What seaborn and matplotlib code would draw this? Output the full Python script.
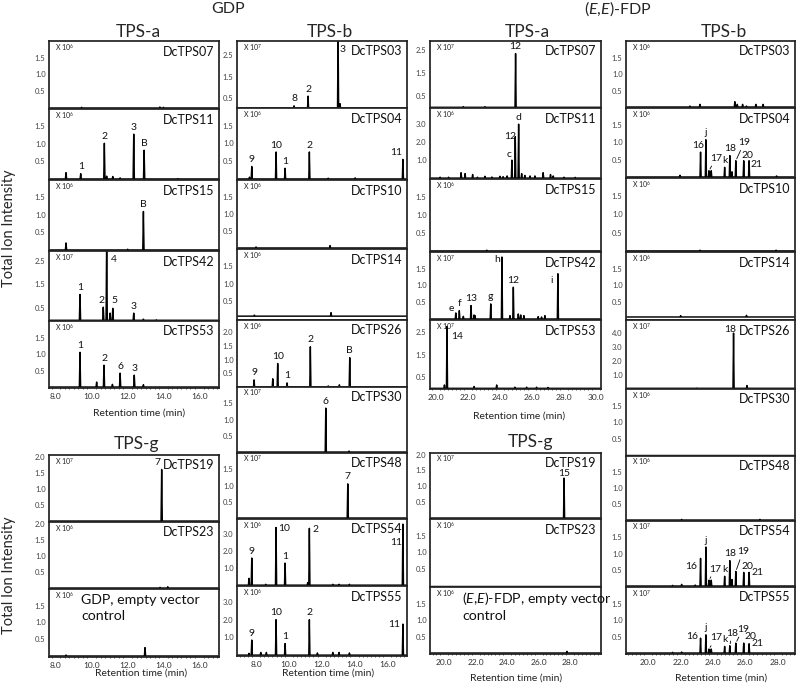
import numpy as np
import pandas as pd
import matplotlib
matplotlib.use("Agg")
import matplotlib.pyplot as plt
from matplotlib.ticker import MultipleLocator, FormatStrFormatter
import seaborn as sns

# ---------------------------------------------------------------- data
# each peak: (retention time [min], height in the panel's units, peak label)
# GDP substrate, TPS-a
GDP_A_TPS07 = [(9.43, 0.02, ""), (13.8, 0.03, ""), (14.0, 0.02, "")]
GDP_A_TPS11 = [(8.56, 0.18, ""), (9.38, 0.15, "1"), (10.70, 1.02, "2"), (10.83, 0.08, ""),
               (11.17, 0.07, ""), (11.58, 0.03, ""), (12.34, 1.28, "3"), (12.92, 0.82, "B"),
               (14.8, 0.01, "")]
GDP_A_TPS15 = [(8.56, 0.20, ""), (12.0, 0.02, ""), (12.88, 1.10, "B")]
GDP_A_TPS42 = [(9.34, 1.08, "1"), (10.64, 0.55, "2"), (10.83, 3.50, "4"), (11.02, 0.30, ""),
               (11.17, 0.50, "5"), (12.34, 0.30, "3"), (12.88, 0.05, ""), (13.6, 0.02, "")]
GDP_A_TPS53 = [(9.34, 1.05, "1"), (10.27, 0.15, ""), (10.68, 0.66, "2"), (11.15, 0.08, ""),
               (11.58, 0.42, "6"), (12.37, 0.36, "3"), (12.88, 0.07, "")]
# GDP substrate, TPS-g
GDP_G_TPS19 = [(13.90, 1.60, "7")]
GDP_G_TPS23 = [(13.81, 0.02, ""), (14.24, 0.04, "")]
GDP_CONTROL = [(8.56, 0.03, ""), (12.97, 0.25, "")]
# GDP substrate, TPS-b
GDP_B_TPS03 = [(10.32, 0.15, "8"), (11.17, 0.60, "2"), (13.00, 3.50, "3"), (13.12, 0.25, "")]
GDP_B_TPS04 = [(7.60, 0.05, ""), (7.74, 0.35, "9"), (9.22, 0.76, "10"), (9.77, 0.30, "1"),
               (11.25, 0.76, "2"), (12.4, 0.02, ""), (14.04, 0.03, ""), (16.95, 0.55, "11")]
GDP_B_TPS10 = [(8.0, 0.03, ""), (12.51, 0.07, "")]
GDP_B_TPS14 = [(7.9, 0.03, ""), (12.57, 0.10, "")]
GDP_B_TPS26 = [(7.88, 0.26, "9"), (9.02, 0.30, ""), (9.32, 0.86, "10"), (9.89, 0.15, "1"),
               (11.31, 1.47, "2"), (12.4, 0.04, ""), (13.08, 0.08, ""), (13.71, 1.07, "B")]
GDP_B_TPS30 = [(12.25, 1.35, "6"), (13.67, 0.03, "")]
GDP_B_TPS48 = [(13.59, 1.05, "7")]
GDP_B_TPS54 = [(7.57, 0.40, ""), (7.74, 1.60, "9"), (8.59, 0.05, ""), (9.22, 3.40, "10"),
               (9.77, 1.30, "1"), (11.15, 0.15, ""), (11.25, 3.35, "2"), (12.68, 0.05, ""),
               (13.06, 0.05, ""), (13.69, 0.05, ""), (16.95, 3.60, "11")]
GDP_B_TPS55 = [(7.57, 0.10, ""), (7.74, 0.85, "9"), (8.29, 0.15, ""), (8.63, 0.15, ""),
               (9.22, 2.00, "10"), (9.77, 0.65, "1"), (11.25, 2.00, "2"), (11.74, 0.12, ""),
               (12.68, 0.15, ""), (13.06, 0.15, ""), (13.69, 0.12, ""), (16.95, 1.75, "11")]
# (E,E)-FDP substrate, TPS-a
FDP_A_TPS07 = [(21.72, 0.03, ""), (23.07, 0.03, ""), (24.98, 2.35, "12")]
FDP_A_TPS11 = [(20.27, 0.05, ""), (20.8, 0.05, ""), (21.58, 0.30, ""), (21.83, 0.25, ""),
               (22.30, 0.20, ""), (22.6, 0.05, ""), (23.07, 0.10, ""), (23.5, 0.06, ""),
               (24.00, 0.10, ""), (24.2, 0.08, ""), (24.45, 0.12, ""), (24.75, 1.00, "c"),
               (24.96, 2.30, "12"), (25.17, 3.00, "d"), (25.36, 0.25, ""), (25.56, 0.15, ""),
               (25.88, 0.12, ""), (26.19, 0.12, ""), (26.70, 0.30, ""), (27.16, 0.20, ""),
               (27.33, 0.12, ""), (28.0, 0.05, ""), (28.7, 0.04, "")]
FDP_A_TPS15 = [(23.18, 0.02, "")]
FDP_A_TPS42 = [(21.25, 0.18, "e"), (21.47, 0.25, "f"), (21.72, 0.08, ""), (22.20, 0.40, "13"),
               (22.39, 0.12, ""), (22.45, 0.10, ""), (23.43, 0.45, "g"), (24.13, 1.85, "h"),
               (24.63, 0.10, ""), (24.84, 0.95, "12"), (25.15, 0.15, ""), (25.30, 0.12, ""),
               (25.50, 0.10, ""), (26.39, 0.07, ""), (26.60, 0.06, ""), (26.81, 0.10, ""),
               (27.62, 1.35, "i")]
FDP_A_TPS53 = [(20.54, 0.15, ""), (20.70, 2.76, "14"), (22.39, 0.08, ""), (23.80, 0.15, ""),
               (24.94, 0.05, ""), (25.67, 0.05, ""), (26.29, 0.05, ""), (27.00, 0.04, "")]
# (E,E)-FDP substrate, TPS-g
FDP_G_TPS19 = [(27.62, 1.26, "15")]
FDP_G_TPS23 = []
FDP_CONTROL = [(27.80, 0.05, "")]
# (E,E)-FDP substrate, TPS-b
FDP_B_TPS03 = [(22.57, 0.03, ""), (23.19, 0.08, ""), (25.35, 0.16, ""), (25.50, 0.08, ""),
               (25.83, 0.08, ""), (26.07, 0.03, ""), (26.65, 0.08, ""), (27.10, 0.08, "")]
FDP_B_TPS04 = [(21.96, 0.05, ""), (23.23, 0.72, "16"), (23.56, 1.08, "j"), (23.75, 0.18, "17"),
               (23.89, 0.18, ""), (24.72, 0.28, "k"), (25.04, 0.62, "18"), (25.17, 0.15, ""),
               (25.41, 0.47, "19"), (25.90, 0.47, "20"), (26.23, 0.47, "21"), (27.93, 0.03, "")]
FDP_B_TPS10 = [(23.2, 0.02, ""), (27.9, 0.02, "")]
FDP_B_TPS14 = [(22.0, 0.04, ""), (26.07, 0.05, "")]
FDP_B_TPS26 = [(23.0, 0.02, ""), (25.27, 4.00, "18"), (26.10, 0.20, "")]
FDP_B_TPS30 = []
FDP_B_TPS48 = [(22.06, 0.02, ""), (26.9, 0.02, "")]
FDP_B_TPS54 = [(21.5, 0.02, ""), (22.06, 0.05, ""), (22.9, 0.03, ""), (23.23, 0.85, "16"),
               (23.56, 1.20, "j"), (23.75, 0.18, "17"), (23.89, 0.18, ""), (24.72, 0.30, "k"),
               (25.04, 0.78, "18"), (25.17, 0.20, ""), (25.41, 0.45, "19"), (25.90, 0.42, "20"),
               (26.23, 0.42, "21")]
FDP_B_TPS55 = [(21.5, 0.02, ""), (22.06, 0.03, ""), (23.23, 0.45, "16"), (23.56, 0.55, "j"),
               (23.75, 0.12, "17"), (23.89, 0.12, ""), (24.72, 0.20, "k"), (25.04, 0.22, "18"),
               (25.41, 0.30, "19"), (25.90, 0.30, "20"), (26.23, 0.28, "21")]

# y scales (tick values, limits) and x ranges of the panel columns
YSCALES = {
    "A": ([0.5, 1.0, 1.5], (-0.03, 2.0)),
    "B": ([0.5, 1.5, 2.5], (-0.03, 2.9)),
    "B2": ([0.5, 1.5, 2.5], (0.05, 3.15)),
    "B3": ([0.5, 1.5, 2.5], (-0.03, 3.05)),
    "C": ([1.0, 2.0, 3.0], (-0.05, 3.9)),
    "D": ([0.5, 1.0, 1.5, 2.0], (-0.03, 2.05)),
    "D2": ([0.5, 1.0, 1.5, 2.0], (0.0, 2.45)),
    "E": ([1.0, 2.0, 3.0, 4.0], (-0.05, 4.95)),
}
XRANGES = {
    "c1": ((7.61, 17.1), [8, 10, 12, 14, 16]),
    "c2": ((6.84, 17.2), [8, 10, 12, 14, 16]),
    "c3t": ((19.64, 30.31), [20, 22, 24, 26, 28, 30]),
    "c3b": ((19.09, 29.97), [20, 22, 24, 26, 28]),
    "c4": ((18.62, 29.07), [20, 22, 24, 26, 28]),
}

# ---------------------------------------------------------------- style
sns.set_theme(style="white")
plt.rcParams["font.family"] = ["Lato", "DejaVu Sans"]
plt.rcParams["mathtext.fontset"] = "custom"
plt.rcParams["mathtext.rm"] = "Lato"
plt.rcParams["mathtext.it"] = "Lato:italic"

W, H = 797, 687
fig = plt.figure(figsize=(W / 100, H / 100), dpi=100)

COLS = {"c1": (49, 219), "c2": (237, 407), "c3t": (430, 601), "c3b": (430, 601), "c4": (626, 795)}

# panel layout: key, peaks, column, top px, bottom px, y-scale, exponent, baseline, x axis shown, name, note
PANELS = [
    ("GDP_A_TPS07", GDP_A_TPS07, "c1", 41, 109, "A", 6, 0, False, "DcTPS07", None),
    ("GDP_A_TPS11", GDP_A_TPS11, "c1", 109, 180, "A", 6, 0, False, "DcTPS11", None),
    ("GDP_A_TPS15", GDP_A_TPS15, "c1", 180, 251, "A", 6, 0, False, "DcTPS15", None),
    ("GDP_A_TPS42", GDP_A_TPS42, "c1", 251, 321, "B", 7, 0, False, "DcTPS42", None),
    ("GDP_A_TPS53", GDP_A_TPS53, "c1", 321, 388, "A", 6, 0, True, "DcTPS53", None),
    ("GDP_G_TPS19", GDP_G_TPS19, "c1", 455, 522, "D", 7, 0, False, "DcTPS19", None),
    ("GDP_G_TPS23", GDP_G_TPS23, "c1", 522, 589, "D", 6, 0, False, "DcTPS23", None),
    ("GDP_CONTROL", GDP_CONTROL, "c1", 589, 657, "A", 6, 0, True, None, "GDP, empty vector\ncontrol"),
    ("GDP_B_TPS03", GDP_B_TPS03, "c2", 41, 108, "B2", 7, 0, False, "DcTPS03", None),
    ("GDP_B_TPS04", GDP_B_TPS04, "c2", 108, 180, "A", 6, 0, False, "DcTPS04", None),
    ("GDP_B_TPS10", GDP_B_TPS10, "c2", 180, 249, "A", 6, 0, False, "DcTPS10", None),
    ("GDP_B_TPS14", GDP_B_TPS14, "c2", 249, 320, "A", 6, 0.08, False, "DcTPS14", None),
    ("GDP_B_TPS26", GDP_B_TPS26, "c2", 320, 387, "D2", 6, 0, False, "DcTPS26", None),
    ("GDP_B_TPS30", GDP_B_TPS30, "c2", 387, 453, "A", 7, 0, False, "DcTPS30", None),
    ("GDP_B_TPS48", GDP_B_TPS48, "c2", 453, 519, "A", 7, 0, False, "DcTPS48", None),
    ("GDP_B_TPS54", GDP_B_TPS54, "c2", 519, 586, "C", 6, 0, False, "DcTPS54", None),
    ("GDP_B_TPS55", GDP_B_TPS55, "c2", 586, 656, "C", 6, 0, True, "DcTPS55", None),
    ("FDP_A_TPS07", FDP_A_TPS07, "c3t", 41, 108, "B", 7, 0, False, "DcTPS07", None),
    ("FDP_A_TPS11", FDP_A_TPS11, "c3t", 108, 179, "C", 6, 0, False, "DcTPS11", None),
    ("FDP_A_TPS15", FDP_A_TPS15, "c3t", 179, 252, "A", 6, 0, False, "DcTPS15", None),
    ("FDP_A_TPS42", FDP_A_TPS42, "c3t", 252, 320, "A", 7, 0, False, "DcTPS42", None),
    ("FDP_A_TPS53", FDP_A_TPS53, "c3t", 320, 389, "B3", 7, 0, True, "DcTPS53", None),
    ("FDP_G_TPS19", FDP_G_TPS19, "c3b", 453, 519, "D", 7, 0, False, "DcTPS19", None),
    ("FDP_G_TPS23", FDP_G_TPS23, "c3b", 519, 587, "A", 6, 0, False, "DcTPS23", None),
    ("FDP_CONTROL", FDP_CONTROL, "c3b", 587, 654, "A", 6, 0, True, None,
     "($E$,$E$)-FDP, empty vector\ncontrol"),
    ("FDP_B_TPS03", FDP_B_TPS03, "c4", 41, 108, "A", 6, 0, False, "DcTPS03", None),
    ("FDP_B_TPS04", FDP_B_TPS04, "c4", 108, 178, "A", 6, 0, False, "DcTPS04", None),
    ("FDP_B_TPS10", FDP_B_TPS10, "c4", 178, 252, "A", 6, 0, False, "DcTPS10", None),
    ("FDP_B_TPS14", FDP_B_TPS14, "c4", 252, 320, "A", 6, 0.06, False, "DcTPS14", None),
    ("FDP_B_TPS26", FDP_B_TPS26, "c4", 320, 389, "E", 7, 0, False, "DcTPS26", None),
    ("FDP_B_TPS30", FDP_B_TPS30, "c4", 389, 456, "A", 6, 0, False, "DcTPS30", None),
    ("FDP_B_TPS48", FDP_B_TPS48, "c4", 456, 521, "A", 6, 0, False, "DcTPS48", None),
    ("FDP_B_TPS54", FDP_B_TPS54, "c4", 521, 587, "A", 7, 0, False, "DcTPS54", None),
    ("FDP_B_TPS55", FDP_B_TPS55, "c4", 587, 654, "A", 7, 0, True, "DcTPS55", None),
]

# label offsets (points) relative to peak top: (dx, dy, draw leader line)
NUDGE = {
    ("GDP_A_TPS42", "4"): (5.5, -6, False),
    ("GDP_A_TPS42", "2"): (-1.5, 5, False),
    ("GDP_A_TPS42", "5"): (1.5, 5.5, False),
    ("GDP_G_TPS19", "7"): (-3, 5, False),
    ("GDP_B_TPS03", "3"): (3.5, -6, False),
    ("GDP_B_TPS04", "11"): (-5, 5, False),
    ("GDP_B_TPS54", "10"): (6, -1, False),
    ("GDP_B_TPS54", "2"): (4.5, -1, False),
    ("GDP_B_TPS54", "11"): (-5, -13, False),
    ("GDP_B_TPS55", "11"): (-6, 0, False),
    ("FDP_A_TPS11", "12"): (-4, 0, False),
    ("FDP_A_TPS11", "c"): (-2, 4, False),
    ("FDP_A_TPS42", "h"): (-3.5, -2, False),
    ("FDP_A_TPS42", "i"): (-4.5, -4.5, False),
    ("FDP_A_TPS42", "e"): (-3, 3, False),
    ("FDP_A_TPS53", "14"): (7, -7, False),
    ("FDP_G_TPS19", "15"): (0, 3.5, False),
    ("FDP_B_TPS26", "18"): (-2.5, 2.5, False),
    ("FDP_B_TPS04", "16"): (-2, 4.5, False),
    ("FDP_B_TPS04", "17"): (5, 9, True),
    ("FDP_B_TPS04", "19"): (6, 13, True),
    ("FDP_B_TPS04", "20"): (2.5, 3.5, False),
    ("FDP_B_TPS04", "21"): (5.5, -2.5, False),
    ("FDP_B_TPS54", "16"): (-7, -6, False),
    ("FDP_B_TPS54", "17"): (4.5, 8, True),
    ("FDP_B_TPS54", "19"): (5, 14, True),
    ("FDP_B_TPS54", "20"): (3, 4, False),
    ("FDP_B_TPS54", "21"): (6, 0, False),
    ("FDP_B_TPS55", "16"): (-6, 1, False),
    ("FDP_B_TPS55", "17"): (5, 8, True),
    ("FDP_B_TPS55", "18"): (1.5, 9, True),
    ("FDP_B_TPS55", "19"): (5, 10, True),
    ("FDP_B_TPS55", "20"): (5, 5, False),
    ("FDP_B_TPS55", "21"): (6, 0, False),
}

HALF_WIDTH = 0.035  # peak half width, minutes


def trace(peaks, xlim, base):
    xs, ys = [xlim[0]], [base]
    for rt, h, _ in sorted(peaks):
        xs += [rt - HALF_WIDTH, rt, rt + HALF_WIDTH]
        ys += [base, base + h, base]
    xs.append(xlim[1])
    ys.append(base)
    return pd.DataFrame({"rt": xs, "tic": ys})


def px_box(x0, y0, x1, y1):
    return [x0 / W, 1 - y1 / H, (x1 - x0) / W, (y1 - y0) / H]


for key, peaks, col, top, bot, ysc, expo, base, xaxis, name, note in PANELS:
    x0, x1 = COLS[col]
    ax = fig.add_axes(px_box(x0, top, x1, bot))
    xlim, xticks = XRANGES[col]
    yticks, ylim = YSCALES[ysc]
    df = trace(peaks, xlim, base)
    sns.lineplot(data=df, x="rt", y="tic", ax=ax, color="black", lw=1.05,
                 estimator=None, sort=False)
    ax.set_xlim(*xlim)
    ax.set_ylim(*ylim)
    ax.set_xlabel("")
    ax.set_ylabel("")
    ax.set_yticks(yticks)
    ax.set_yticklabels([f"{t:.1f}" for t in yticks])
    ax.tick_params(axis="y", length=1.5, width=0.6, labelsize=5.5, pad=1,
                   labelcolor="#444444", color="#444444")
    if xaxis:
        ax.set_xticks(xticks)
        ax.xaxis.set_major_formatter(FormatStrFormatter("%.1f"))
        ax.xaxis.set_minor_locator(MultipleLocator(0.25))
        ax.tick_params(axis="x", which="major", length=3, width=0.7, direction="inout",
                       labelsize=6, pad=2, labelcolor="#333333", color="#222222")
        ax.tick_params(axis="x", which="minor", length=2, width=0.5, direction="inout",
                       color="#222222", bottom=True)
    else:
        ax.set_xticks([])
    for sp in ax.spines.values():
        sp.set_linewidth(1.25)
        sp.set_color("#222222")

    ax.text(0.035, 0.91, rf"X 10$^{{{expo}}}$", transform=ax.transAxes, fontsize=5,
            ha="left", va="center", color="#222222")
    if name:
        ax.text(0.975, 0.845, name, transform=ax.transAxes, fontsize=9,
                ha="right", va="center", color="#111111")
    if note:
        ax.text(0.19, 0.72, note, transform=ax.transAxes, fontsize=10.2,
                ha="left", va="center", linespacing=1.35, color="#111111")

    ytop = ylim[1]
    for rt, h, lab in peaks:
        if not lab:
            continue
        dx, dy, line = NUDGE.get((key, lab), (0, 5, False))
        yp = min(base + h, ytop)
        kw = {}
        if line:
            kw["arrowprops"] = dict(arrowstyle="-", color="black", lw=0.6,
                                    shrinkA=0, shrinkB=1.5)
        ax.annotate(lab, xy=(rt, yp), xytext=(dx, dy), textcoords="offset points",
                    ha="center", va="center", fontsize=7.5, color="#111111",
                    annotation_clip=False, **kw)


def ftext(x, y, s, **kw):
    fig.text(x / W, 1 - y / H, s, ha="center", va="center", **kw)


ftext(228, 9, "GDP", fontsize=11.5)
ftext(618, 9, "($E$,$E$)-FDP", fontsize=11.5)
ftext(138, 32, "TPS-a", fontsize=12.5)
ftext(330, 32, "TPS-b", fontsize=12.5)
ftext(527, 32, "TPS-a", fontsize=12.5)
ftext(724, 32, "TPS-b", fontsize=12.5)
ftext(137, 444, "TPS-g", fontsize=12.5)
ftext(530, 442, "TPS-g", fontsize=12.5)
ftext(9, 228, "Total Ion Intensity", fontsize=10.5, rotation=90)
ftext(9, 575, "Total Ion Intensity", fontsize=10.5, rotation=90)
for xc, yc in [(139, 413), (141, 673), (328, 673), (519, 416), (516, 678), (721, 678)]:
    ftext(xc, yc, "Retention time (min)", fontsize=7.5, color="#222222")

fig.savefig("out.png", dpi=100)
